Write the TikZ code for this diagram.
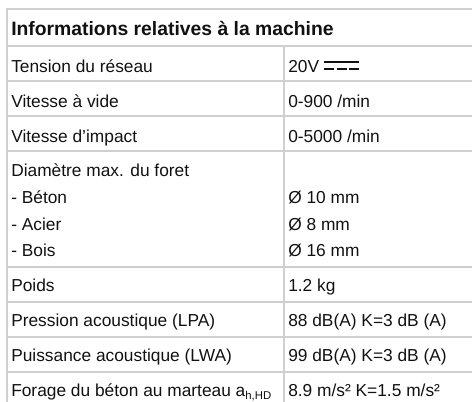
\documentclass[tikz,border=0pt]{standalone}
\usepackage{fontspec}
\setmainfont{Liberation Sans}
\definecolor{gridgray}{HTML}{CFCFCF}
\definecolor{textcol}{HTML}{111111}
\begin{document}
\begin{tikzpicture}[x=0.75pt,y=-0.75pt,
  rule/.style={draw=gridgray,line width=1.5pt},
  cell/.style={anchor=base west,inner sep=0pt,text=textcol,font=\fontsize{13}{15}\selectfont},
  headcell/.style={cell,font=\fontsize{14.5}{17}\selectfont\bfseries}]
\useasboundingbox (0,0) rectangle (472,402);
% grid
\draw[rule] (6,9) -- (472,9);
\draw[rule] (6.5,9) -- (6.5,402);
\foreach \yy in {46,81,116,151,267,302,337,372}
  \draw[rule] (6,\yy) -- (472,\yy);
\draw[rule] (284,46) -- (284,402);
% header
\node[headcell] (head) at (11,36) {Informations relatives à la machine};
% left column
\node[cell] (l1) at (11,72.6) {Tension du réseau};
\node[cell] (l2) at (11,107.3) {Vitesse à vide};
\node[cell] (l3) at (11,142.5) {Vitesse d’impact};
\node[cell] (l4) at (11,176.7) {Diamètre max. du foret};
\node[cell] (l5) at (11,203.3) {- Béton};
\node[cell] (l6) at (11,230.3) {- Acier};
\node[cell] (l7) at (11,256.7) {- Bois};
\node[cell] (l8) at (11,292) {Poids};
\node[cell] (l9) at (11,326.7) {Pression acoustique (LPA)};
\node[cell] (l10) at (11,361.7) {Puissance acoustique (LWA)};
\node[cell] (l11) at (11,396.7) {Forage du béton au marteau a\raisebox{-0.35ex}{\fontsize{8.5}{9}\selectfont h,HD}};
% right column
\node[cell] (v20) at (288,72.6) {20V};
\begin{scope}[shift={(v20.base east)}]
  \fill[textcol] (5,-12) rectangle (40,-9.2);
  \fill[textcol] (5,-4.9) rectangle (15,-2.1);
  \fill[textcol] (17.5,-4.9) rectangle (27.5,-2.1);
  \fill[textcol] (30,-4.9) rectangle (40,-2.1);
\end{scope}
\node[cell] (r2) at (288,107.3) {0-900 /min};
\node[cell] (r3) at (288,142.5) {0-5000 /min};
\node[cell] (r5) at (288,203.3) {Ø 10 mm};
\node[cell] (r6) at (288,230.3) {Ø 8 mm};
\node[cell] (r7) at (288,256.7) {Ø 16 mm};
\node[cell] (r8) at (288,292) {1.2 kg};
\node[cell] (r9) at (288,326.7) {88 dB(A) K=3 dB (A)};
\node[cell] (r10) at (288,361.7) {99 dB(A) K=3 dB (A)};
\node[cell] (r11) at (288,396.7) {8.9 m/s² K=1.5 m/s²};
\end{tikzpicture}
\end{document}
